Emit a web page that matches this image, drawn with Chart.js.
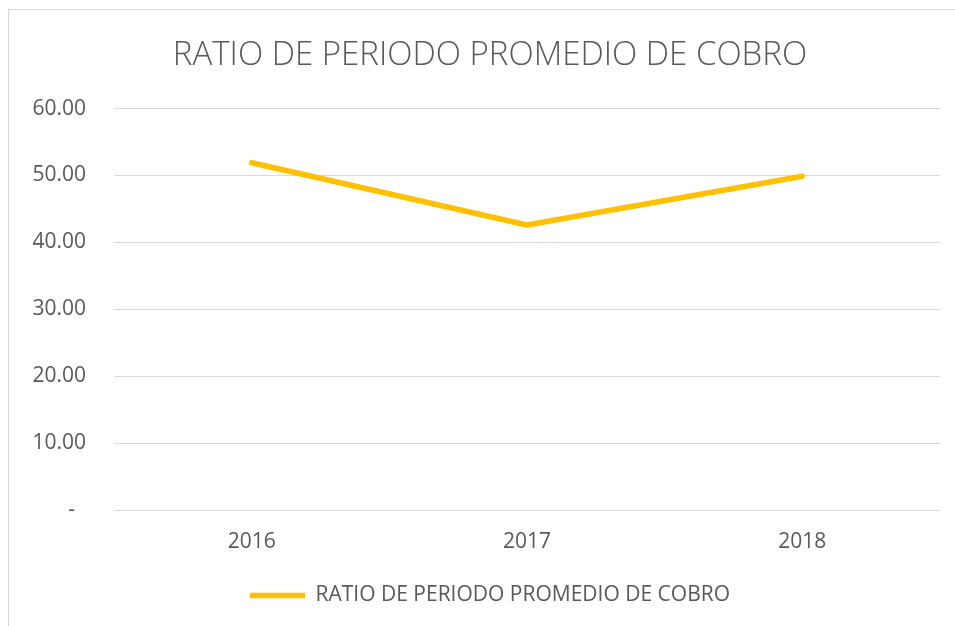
<!DOCTYPE html>
<html lang="es">
<head>
    <meta charset="UTF-8">
    <title>Ratio de periodo promedio de cobro</title>
    <script src="https://cdn.jsdelivr.net/npm/chart.js"></script>
    <style>
        body {
            margin: 0;
            padding: 0;
            background: #fff;
        }

        .wrap {
            position: relative;
            width: 955px;
            height: 626px;
            overflow: hidden;
        }

        /* frame of the chart object, only left and top edges are visible */
        .frame {
            position: absolute;
            left: 8px;
            top: 9px;
            width: 1000px;
            height: 700px;
            border: 1.5px solid #d9d9d9;
        }

        /* canvas runs past the right edge so title and legend centre at x~490 */
        canvas {
            position: absolute;
            left: 0;
            top: 0;
        }
    </style>
</head>
<body>
    <div class="wrap">
        <div class="frame"></div>
        <canvas id="ratioChart" width="980" height="626"></canvas>
    </div>

    <script>
        // data
        const years = ['2016', '2017', '2018'];
        const ratioValues = [51.9, 42.6, 49.9];
        const seriesName = 'RATIO DE PERIODO PROMEDIO DE COBRO';
        const yTicks = [0, 10, 20, 30, 40, 50, 60];

        const textColor = '#595959';
        const gridColor = '#d9d9d9';
        const lineColor = '#FFC000';

        const ctx = document.getElementById('ratioChart').getContext('2d');

        const chart = new Chart(ctx, {
            type: 'line',
            data: {
                labels: years,
                datasets: [{
                    label: seriesName,
                    data: ratioValues,
                    borderColor: lineColor,
                    backgroundColor: lineColor,
                    borderWidth: 5.5,
                    borderCapStyle: 'round',
                    borderJoinStyle: 'round',
                    pointRadius: 0,
                    pointStyle: 'line',
                    tension: 0,
                    fill: false
                }]
            },
            options: {
                responsive: false,
                animation: false,
                layout: {
                    padding: { left: 0, right: 0, top: 0, bottom: 10 }
                },
                scales: {
                    x: {
                        offset: true,
                        afterFit: s => { s.height = 65; },
                        grid: { display: false },
                        border: { display: false },
                        ticks: {
                            color: textColor,
                            font: { family: 'Open Sans', size: 21 },
                            padding: 11
                        }
                    },
                    y: {
                        min: yTicks[0],
                        max: yTicks[yTicks.length - 1],
                        afterFit: s => { s.width = 114; },
                        afterBuildTicks: s => { s.ticks = yTicks.map(v => ({ value: v })); },
                        grid: { color: gridColor, lineWidth: 1, drawTicks: false },
                        border: { display: false },
                        ticks: {
                            color: textColor,
                            font: { family: 'Open Sans', size: 21 },
                            padding: 28,
                            callback: v => v === 0 ? '-  ' : v.toFixed(2)
                        }
                    },
                    // empty right-hand spacer, keeps the plot ending at x=940
                    spacer: {
                        type: 'linear',
                        position: 'right',
                        afterFit: s => { s.width = 40; },
                        grid: { display: false },
                        border: { display: false },
                        ticks: { display: false }
                    }
                },
                plugins: {
                    title: {
                        display: true,
                        text: seriesName,
                        color: textColor,
                        font: { family: 'Open Sans', size: 33, weight: '300' },
                        padding: { top: 36, bottom: 33 }
                    },
                    legend: {
                        position: 'bottom',
                        labels: {
                            color: textColor,
                            font: { family: 'Open Sans', size: 21 },
                            usePointStyle: true,
                            pointStyleWidth: 55,
                            boxHeight: 20,
                            padding: 10
                        }
                    },
                    tooltip: { enabled: false }
                }
            }
        });
    </script>
</body>
</html>
